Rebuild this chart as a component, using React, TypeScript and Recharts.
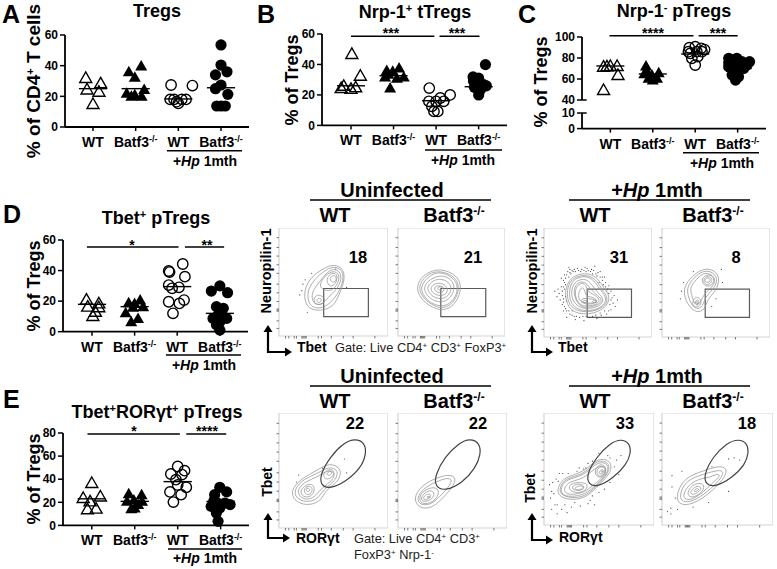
import React from "react"
import { ReferenceArea, ReferenceLine, Scatter, ScatterChart, XAxis, YAxis } from "recharts"

const FONT = "'Liberation Sans', Arial, sans-serif"
const groupNames = ["WT", "Batf3", "WT", "Batf3"]
const groupTicks = [1, 2, 3, 4]

type Pt = number[]

// dot plots, [group position with jitter, % of cells]
const aWt: Pt[] = [[0.83, 32], [1.18, 28.5], [0.86, 24.5], [1.14, 23], [1, 15]]
const aKo: Pt[] = [[2.13, 39.8], [1.84, 36], [1.98, 32.4], [1.79, 22], [2.2, 24.5], [1.9, 20], [2.14, 20], [1.98, 21]]
const aWtHp: Pt[] = [[2.83, 27.4], [3.33, 27], [2.81, 18], [2.96, 16.5], [3.08, 18], [3.18, 18], [3, 15.4], [2.9, 18]]
const aKoHp: Pt[] = [[4, 53.5], [4, 40.4], [3.87, 34], [4.14, 36], [4, 27.4], [3.87, 25], [4.16, 21.3], [3.9, 13.7], [4.1, 13.7], [4, 13.7]]
const aMeans = [25, 25, 18.3, 25.6]

const bWt: Pt[] = [[1.02, 46.9], [1.22, 32.6], [0.83, 26], [1, 24], [1.11, 25], [0.77, 24.5]]
const bKo: Pt[] = [[2.13, 37.7], [1.84, 36], [1.98, 35.5], [2.24, 31.8], [1.8, 31.8], [2.08, 31], [1.92, 24.5], [1.88, 33.5]]
const bWtHp: Pt[] = [[2.84, 24.5], [3.33, 20], [2.83, 15.8], [3.1, 18], [3.18, 15.8], [2.9, 12.5], [2.95, 9.2], [3.04, 9.2], [3, 15.8]]
const bKoHp: Pt[] = [[4.16, 39.9], [3.87, 31.8], [4, 31], [4.12, 26.7], [3.9, 25], [4.04, 23.4], [4, 20], [3.88, 29], [4.18, 26]]
const bMeans = [26, 32.6, 16.2, 25.4]

const cWt: Pt[] = [[0.84, 71.7], [1, 72.4], [1.16, 72.4], [0.92, 72], [1.18, 63.8], [0.84, 49.5]]
const cKo: Pt[] = [[1.84, 72.4], [2.14, 66], [1.8, 65], [1.98, 63.8], [1.87, 67], [2.1, 60.6], [2, 59], [1.9, 60.6]]
const cWtHp: Pt[] = [[2.86, 89.8], [3, 90.8], [3.14, 89.2], [2.88, 84.4], [3.16, 86], [3.06, 81.3], [2.92, 79.7], [3, 73.3], [2.84, 86], [3.04, 86], [3.22, 88]]
const cKoHp: Pt[] = [[3.79, 79.7], [4.28, 76.5], [4.1, 76.5], [3.79, 71.7], [3.95, 70], [4.14, 70], [3.87, 63.8], [3.95, 59], [4.02, 62.2], [4.22, 73.3], [3.87, 76.5], [3.98, 79.7], [3.79, 75.5]]
const cMeans = [72.4, 64.8, 83.8, 70]
const cLowerBase: Pt[] = [[1, 0], [2, 0], [3, 0], [4, 0]]

const dWt: Pt[] = [[0.87, 21], [1.16, 18.5], [0.9, 16.4], [1.16, 16], [1.08, 13], [1.02, 10.3]]
const dKo: Pt[] = [[1.86, 19], [2.13, 20.7], [2, 18.5], [2.2, 16.4], [1.79, 12.4], [1.92, 6.5], [2.08, 8.7], [1.96, 16]]
const dWtHp: Pt[] = [[3.13, 44.3], [2.8, 39.7], [3.18, 36], [2.8, 30.5], [3.04, 29], [2.88, 28.4], [3.16, 20.7], [2.8, 19.6], [3.05, 18.5], [2.9, 12], [2.82, 39]]
const dKoHp: Pt[] = [[4, 30], [3.8, 26.6], [4.18, 25.5], [3.92, 16.4], [4.08, 15.3], [3.84, 8.7], [4, 6.5], [4.16, 8.7], [4, 1], [3.96, 10.9], [3.92, 4.5]]
const dMeans = [17.9, 16.4, 29.5, 12]

const eWt: Pt[] = [[1, 36.7], [0.8, 23.7], [1.2, 25], [0.96, 20.8], [0.9, 14], [1.1, 14.5]]
const eKo: Pt[] = [[1.86, 27.5], [2.16, 26.6], [1.98, 22], [1.82, 21], [2.17, 21], [2, 15], [1.92, 14.5], [2.08, 18]]
const eWtHp: Pt[] = [[3, 51], [3.16, 47.4], [2.84, 44.5], [3.1, 44], [2.96, 39.6], [2.82, 29], [3.2, 33], [3.08, 26.6], [2.9, 20.2], [3, 35]]
const eKoHp: Pt[] = [[3.98, 33], [4.14, 29], [3.86, 26.6], [3.94, 19], [4.22, 18], [3.78, 16.5], [3.98, 15], [4.1, 19.4], [3.9, 10.7], [3.94, 3.5], [3.84, 21]]
const eMeans = [23, 20.8, 37.9, 20.8]

const facsXTicks = [6, 9, 14, 16, 21, 22, 23, 24, 25, 36, 39, 48, 59, 68, 88]
const facsYTicks = [7, 14, 23, 24, 25, 32, 40, 48, 58, 66, 74, 82, 91]

// flow panels, loops in percent of the panel box
const d1Loops: Pt[][] = [
  [[24, 46], [31, 56], [40, 62], [50, 67], [60, 62], [60, 50], [55, 38], [50, 27], [38, 23], [27, 25], [23, 34]],
  [[27, 44], [33, 53], [41, 60], [50, 65], [59, 61], [59, 50], [54, 39], [47, 30], [38, 25], [29, 27], [26, 35]],
  [[31, 42], [37, 50], [43, 58], [50, 63], [57, 59], [57, 50], [52, 42], [45, 36], [40, 29], [32, 29], [30, 36]],
  [[36, 46], [42, 56], [50, 61], [56, 57], [54, 48], [49, 42], [42, 42]],
  [[43, 51], [46, 57], [51, 59], [54, 55], [52, 48], [47, 45]],
  [[46, 52], [48, 56], [52, 56], [53, 52], [50, 49]],
  [[31, 34], [35, 39], [42, 36], [42, 30], [34, 28]],
  [[34, 33], [37, 36], [40, 33], [36, 30]],
]
const d2Loops: Pt[][] = [
  [[17, 44], [21, 54], [30, 60], [40, 62], [52, 58], [59, 50], [58, 38], [52, 28], [42, 23], [30, 27], [21, 35]],
  [[19, 44], [23, 53], [31, 59], [41, 60], [51, 56], [57, 49], [56, 38], [50, 29], [41, 25], [31, 29], [23, 36]],
  [[21, 44], [25, 52], [33, 58], [41, 59], [50, 55], [56, 48], [55, 38], [49, 30], [41, 27], [31, 30], [24, 37]],
  [[24, 45], [28, 51], [35, 55], [43, 56], [50, 52], [53, 46], [51, 38], [46, 33], [40, 31], [32, 33], [26, 39]],
  [[27, 45], [31, 50], [37, 53], [44, 52], [49, 48], [50, 42], [46, 36], [40, 34], [33, 36], [29, 40]],
  [[30, 45], [35, 49], [42, 49], [47, 44], [45, 38], [38, 37], [32, 40]],
  [[33, 45], [38, 47], [44, 45], [42, 40], [36, 40]],
  [[36, 45], [41, 46], [42, 43], [38, 42]],
]
const d3Loops: Pt[][] = [
  [[19, 40], [22, 50], [28, 57], [41, 59], [50, 54], [56, 44], [61, 38], [59, 28], [46, 21], [31, 21], [22, 27]],
  [[21, 40], [23, 50], [30, 56], [41, 57], [49, 52], [54, 43], [59, 37], [58, 29], [46, 23], [32, 23], [23, 29]],
  [[23, 40], [25, 50], [31, 55], [41, 56], [48, 50], [53, 42], [58, 36], [56, 29], [46, 24], [33, 24], [25, 30]],
  [[25, 40], [27, 49], [33, 53], [40, 53], [45, 47], [50, 40], [55, 36], [54, 30], [45, 26], [34, 26], [27, 32]],
  [[27, 39], [29, 48], [34, 51], [39, 50], [42, 45], [48, 39], [54, 35], [52, 30], [42, 27], [33, 27]],
  [[28, 38], [30, 47], [35, 50], [39, 48], [40, 42], [46, 39], [52, 35], [50, 30], [40, 28], [33, 29]],
  [[31, 36], [33, 44], [36, 46], [38, 42], [39, 37], [44, 37], [50, 34], [46, 30], [36, 30]],
  [[33, 33], [37, 36], [41, 35], [45, 35], [50, 33], [46, 31], [38, 31]],
  [[35, 33], [39, 34], [40, 32], [37, 31]],
  [[44, 33], [48, 34], [50, 32], [46, 31]],
]
const d4Loops: Pt[][] = [
  [[20, 46], [28, 56], [38, 63], [48, 62], [54, 54], [50, 42], [42, 35], [40, 25], [32, 22], [25, 28], [21, 36]],
  [[23, 46], [30, 55], [38, 61], [47, 60], [52, 53], [48, 44], [40, 37], [38, 28], [32, 25], [27, 30], [24, 38]],
  [[26, 46], [32, 53], [38, 59], [46, 58], [50, 52], [46, 45], [39, 40], [36, 32], [32, 28], [29, 33], [27, 40]],
  [[36, 52], [40, 57], [46, 57], [49, 52], [46, 47], [40, 46]],
  [[38, 52], [41, 56], [45, 55], [47, 52], [44, 48], [40, 48]],
  [[39, 52], [42, 55], [45, 53], [44, 50], [41, 50]],
  [[28, 32], [31, 37], [35, 36], [37, 31], [33, 27], [29, 28]],
  [[30, 32], [33, 35], [35, 32], [32, 29]],
  [[31, 32], [33, 33], [34, 31], [32, 30]],
]
const e1Loops: Pt[][] = [
  [[11, 34], [22, 44], [35, 50], [46, 57], [58, 52], [55, 40], [42, 33], [39, 23], [25, 19], [13, 24]],
  [[14, 34], [23, 43], [35, 47], [46, 54], [55, 50], [52, 41], [40, 33], [36, 25], [25, 22], [15, 26]],
  [[17, 34], [25, 41], [35, 44], [45, 51], [52, 48], [49, 41], [38, 34], [33, 27], [25, 24], [18, 28]],
  [[40, 47], [46, 52], [52, 49], [48, 43], [42, 42]],
  [[43, 47], [47, 50], [49, 48], [46, 45]],
  [[20, 34], [27, 39], [33, 37], [32, 29], [25, 26], [20, 29]],
  [[22, 34], [27, 37], [31, 35], [30, 30], [25, 28]],
  [[24, 34], [27, 35], [29, 33], [26, 31]],
]
const e2Loops: Pt[][] = [
  [[14, 26], [21, 36], [31, 42], [46, 47], [54, 44], [50, 35], [40, 25], [31, 17], [19, 17]],
  [[17, 26], [23, 34], [32, 39], [45, 44], [50, 42], [47, 36], [38, 27], [30, 20], [20, 20]],
  [[19, 27], [24, 33], [33, 36], [38, 33], [36, 26], [29, 21], [21, 21]],
  [[21, 27], [26, 32], [32, 33], [34, 28], [28, 23], [22, 23]],
  [[23, 27], [27, 30], [31, 29], [28, 25], [24, 24]],
  [[26, 27], [29, 28], [30, 26], [27, 26]],
]
const e3Loops: Pt[][] = [
  [[12, 33], [18, 43], [37, 47], [48, 60], [61, 58], [62, 47], [47, 33], [38, 24], [23, 22], [13, 26]],
  [[14, 33], [19, 42], [37, 45], [47, 58], [59, 57], [60, 47], [47, 34], [37, 25], [24, 24], [15, 27]],
  [[15, 33], [20, 41], [37, 44], [47, 56], [58, 56], [59, 47], [47, 35], [37, 27], [24, 25], [16, 27]],
  [[18, 33], [23, 39], [36, 41], [46, 51], [56, 54], [57, 46], [48, 38], [37, 29], [26, 27], [19, 28]],
  [[21, 33], [26, 38], [36, 38], [40, 36], [38, 30], [28, 28]],
  [[24, 33], [29, 37], [36, 36], [37, 32], [30, 30]],
  [[27, 33], [32, 35], [36, 35], [35, 32], [30, 31]],
  [[45, 46], [49, 54], [55, 54], [57, 47], [51, 41]],
  [[47, 47], [50, 52], [55, 52], [56, 47], [51, 42]],
  [[49, 46], [52, 50], [55, 49], [53, 45]],
  [[51, 47], [53, 49], [54, 47]],
]
const e4Loops: Pt[][] = [
  [[13, 28], [20, 42], [36, 48], [54, 54], [60, 48], [52, 37], [39, 25], [24, 17], [14, 19]],
  [[16, 28], [22, 40], [36, 45], [53, 50], [56, 46], [50, 38], [38, 27], [25, 20], [17, 21]],
  [[19, 28], [25, 37], [36, 42], [42, 42], [50, 46], [53, 44], [46, 38], [37, 29], [26, 22], [20, 23]],
  [[22, 28], [27, 36], [35, 38], [39, 34], [34, 27], [26, 24]],
  [[25, 29], [29, 34], [34, 35], [36, 32], [31, 28], [27, 27]],
  [[28, 30], [31, 33], [34, 32], [31, 30]],
]

const e1Gate: Pt[] = [[79, 74], [70, 78], [59, 74], [47, 62], [38, 47], [38, 37], [47, 34], [61, 40], [75, 52], [80, 64]]
const e2Gate: Pt[] = [[75, 74], [66, 78], [56, 74], [43, 62], [34, 46], [34, 36], [43, 32], [59, 39], [71, 52], [76, 64]]
const e3Gate: Pt[] = [[78, 73], [70, 77], [60, 73], [48, 61], [39, 46], [40, 36], [49, 34], [63, 42], [75, 54], [79, 64]]
const e4Gate: Pt[] = [[77, 73], [69, 77], [58, 73], [46, 61], [38, 46], [39, 36], [48, 34], [63, 42], [75, 54], [78, 64]]

const d1Dots: Pt[] = [[22, 48], [21, 42], [19, 38], [24, 52], [26, 22], [52, 62], [62, 45], [30, 58]]
const d4Dots: Pt[] = [[18, 42], [20, 50], [56, 50], [50, 35], [46, 28], [55, 62], [29, 60], [17, 35]]
const d3Dots: Pt[] = [
  [14, 40], [16, 46], [15, 34], [18, 52], [17, 30], [19, 57], [20, 26], [22, 60], [24, 62], [26, 20], [28, 62], [31, 63], [33, 18],
  [35, 62], [38, 64], [40, 63], [42, 18], [44, 62], [46, 61], [47, 65], [49, 17], [50, 59], [52, 60], [53, 20], [54, 55], [56, 55], [57, 50],
  [58, 21], [60, 47], [62, 42], [63, 36], [64, 31], [62, 25], [65, 38], [66, 28], [13, 44], [12, 37], [10, 42], [18, 24], [16, 54],
  [23, 64], [21, 18], [29, 16], [37, 15], [20, 48], [21, 33], [23, 55], [25, 58], [18, 35], [17, 42], [59, 44], [55, 48], [60, 24],
  [45, 19], [36, 19], [30, 19], [26, 24], [23, 24], [19, 44], [20, 37], [41, 61], [34, 60], [49, 56], [51, 50], [27, 60], [68, 34],
  [18, 46], [19, 50], [20, 54], [21, 57], [24, 59], [26, 61], [29, 60], [32, 61], [37, 61], [39, 60], [43, 60], [45, 58], [48, 58],
  [52, 55], [54, 52], [57, 46], [17, 38], [18, 32], [19, 28], [21, 24], [24, 21], [28, 19], [39, 19], [48, 20], [52, 22], [56, 24],
  [61, 30], [62, 34], [60, 40], [58, 42],
]
const e1Dots: Pt[] = [[16, 40], [40, 52], [60, 60], [62, 48], [18, 46]]
const e3Dots: Pt[] = [
  [8, 38], [9, 28], [11, 41], [10, 18], [7, 30], [12, 18], [14, 46], [16, 14], [17, 46], [21, 11], [25, 16], [30, 48], [33, 17], [32, 51], [38, 51],
  [28, 20], [40, 19], [42, 22], [44, 26], [50, 29], [55, 32], [60, 60], [64, 52], [66, 58], [58, 62], [50, 64], [70, 62], [6, 24], [13, 39], [19, 18],
  [44, 57], [40, 55], [36, 50], [22, 46], [5, 36], [12, 10], [7, 14], [60, 38], [46, 18], [68, 45],
]
const e4Dots: Pt[] = [[9, 44], [8, 15], [8, 10], [9, 34], [12, 24], [18, 48], [5, 12], [14, 14], [60, 30], [60, 59], [65, 60], [70, 58], [45, 52], [28, 16], [42, 20]]

const toXY = (pts: Pt[]) => pts.map(([x, y]) => ({ x, y }))

const OpenTriangle = ({ cx, cy }: any) => (
  <polygon points={`${cx},${cy - 6} ${cx + 6},${cy + 4.5} ${cx - 6},${cy + 4.5}`} fill="none" stroke="#000" strokeWidth={1.4} />
)
const FilledTriangle = ({ cx, cy }: any) => (
  <polygon points={`${cx},${cy - 6} ${cx + 6},${cy + 4.5} ${cx - 6},${cy + 4.5}`} fill="#000" />
)
const OpenCircle = ({ cx, cy }: any) => <circle cx={cx} cy={cy} r={5.2} fill="none" stroke="#000" strokeWidth={1.4} />
const FilledCircle = ({ cx, cy }: any) => <circle cx={cx} cy={cy} r={5.6} fill="#000" />
const Speck = ({ cx, cy }: any) => <circle cx={cx} cy={cy} r={0.6} fill="#444" />
const NoMark = () => <g />

const GroupTick = ({ x, y, payload }: any) => {
  const name = groupNames[payload.value - 1]
  return (
    <text x={x} y={y + 14} textAnchor="middle" fontFamily={FONT} fontWeight={700} fontSize={14} fill="#000">
      {name}
      {name !== "WT" && <tspan dy={-5} fontSize={9}>-/-</tspan>}
    </text>
  )
}

function DotPlot({ left, top, width, height, domain, xDomain, yTicks, series, base, means, bars, hideX, edgeTicks }: any) {
  const pad = { l: 30, r: 6, t: 14, b: 28 }
  return (
    <div style={{ position: "absolute", left: left - pad.l, top: top - pad.t }}>
      <ScatterChart
        width={width + pad.l + pad.r}
        height={height + pad.t + pad.b}
        margin={{ left: 0, right: pad.r, top: pad.t, bottom: hideX ? pad.b : 0 }}
      >
        <XAxis
          type="number"
          dataKey="x"
          domain={xDomain}
          ticks={groupTicks}
          interval={0}
          hide={hideX}
          height={pad.b}
          axisLine={{ stroke: "#000", strokeWidth: 1.8 }}
          tickLine={{ stroke: "#000", strokeWidth: 1.5 }}
          tickSize={4}
          tick={<GroupTick />}
        />
        <YAxis
          type="number"
          dataKey="y"
          domain={domain}
          ticks={yTicks}
          interval={0}
          width={pad.l}
          axisLine={{ stroke: "#000", strokeWidth: 1.8 }}
          tickLine={{ stroke: "#000", strokeWidth: 1.5 }}
          tickSize={5}
          tick={{ fontFamily: FONT, fontWeight: 700, fontSize: 12, fill: "#000" }}
        />
        {base && <Scatter data={toXY(base)} shape={NoMark} isAnimationActive={false} />}
        {series &&
          series.map((s: Pt[], i: number) => (
            <Scatter
              key={i}
              data={toXY(s)}
              isAnimationActive={false}
              shape={[OpenTriangle, FilledTriangle, OpenCircle, FilledCircle][i]}
            />
          ))}
        {means &&
          means.map((m: number, i: number) => (
            <ReferenceLine
              key={i}
              ifOverflow="visible"
              stroke="#000"
              strokeWidth={1.4}
              segment={[{ x: groupTicks[i] - 0.33, y: m }, { x: groupTicks[i] + 0.33, y: m }]}
            />
          ))}
        {bars &&
          bars.map((b: number[], i: number) => (
            <ReferenceLine
              key={i}
              ifOverflow="visible"
              stroke="#000"
              strokeWidth={1.5}
              segment={[{ x: b[0], y: b[2] }, { x: b[1], y: b[2] }]}
            />
          ))}
        {edgeTicks &&
          edgeTicks.map((v: number) => (
            <ReferenceLine
              key={v}
              ifOverflow="visible"
              stroke="#000"
              strokeWidth={1.5}
              segment={[{ x: xDomain[0], y: v }, { x: xDomain[0] + 0.11, y: v }]}
            />
          ))}
      </ScatterChart>
    </div>
  )
}

function FlowPanel({ left, top, width, height, loops, dots, gate, ellipse }: any) {
  return (
    <div style={{ position: "absolute", left: left - 5, top: top }}>
      <ScatterChart width={width + 5} height={height + 5} margin={{ left: 0, right: 0, top: 0, bottom: 0 }}>
        <XAxis
          type="number"
          dataKey="x"
          domain={[0, 100]}
          ticks={facsXTicks}
          interval={0}
          height={5}
          axisLine={false}
          tickLine={{ stroke: "#444", strokeWidth: 0.7 }}
          tickSize={2.5}
          tickFormatter={() => ""}
        />
        <YAxis
          type="number"
          dataKey="y"
          domain={[0, 100]}
          ticks={facsYTicks}
          interval={0}
          width={5}
          axisLine={false}
          tickLine={{ stroke: "#444", strokeWidth: 0.7 }}
          tickSize={2.5}
          tickFormatter={() => ""}
        />
        <ReferenceArea x1={0} x2={100} y1={0} y2={100} fill="none" stroke="#d4d4d4" strokeWidth={1.2} />
        {dots && <Scatter data={toXY(dots)} shape={Speck} isAnimationActive={false} />}
        {loops.map((l: Pt[], i: number) => (
          <Scatter
            key={i}
            data={toXY(l)}
            shape={NoMark}
            line={{ stroke: "#999", strokeWidth: 0.8 }}
            lineJointType="basisClosed"
            isAnimationActive={false}
          />
        ))}
        {gate && (
          <ReferenceArea x1={gate[0]} x2={gate[1]} y1={gate[2]} y2={gate[3]} fill="none" stroke="#5a5a5a" strokeWidth={1.2} />
        )}
        {ellipse && (
          <Scatter
            data={toXY(ellipse)}
            shape={NoMark}
            line={{ stroke: "#444", strokeWidth: 1.2 }}
            lineJointType="basisClosed"
            isAnimationActive={false}
          />
        )}
      </ScatterChart>
    </div>
  )
}

const T = ({ x, y, size = 14, w = 700, a = "start", rot, children }: any) => (
  <text
    x={x}
    y={y}
    fontFamily={FONT}
    fontSize={size}
    fontWeight={w}
    textAnchor={a}
    fill={w === 700 ? "#000" : "#222"}
    transform={rot ? `rotate(-90 ${x} ${y})` : undefined}
  >
    {children}
  </text>
)

const HpLabel = ({ x, y, size = 14 }: any) => (
  <T x={x} y={y} size={size} a="middle">
    +<tspan fontStyle="italic">Hp</tspan> 1mth
  </T>
)

const KoLabel = ({ x, y }: any) => (
  <T x={x} y={y} size={20} a="middle">
    Batf3<tspan dy={-7} fontSize={12}>-/-</tspan>
  </T>
)

const Axes = ({ x, top, bottom, right }: any) => (
  <g fill="#000">
    <path d={`M${x} ${top + 6}V${bottom}H${right - 6}`} fill="none" stroke="#000" strokeWidth={2.2} />
    <polygon points={`${x},${top} ${x + 4.5},${top + 7} ${x - 4.5},${top + 7}`} />
    <polygon points={`${right},${bottom} ${right - 7},${bottom - 4.5} ${right - 7},${bottom + 4.5}`} />
  </g>
)

const Rule = ({ x1, x2, y, w = 1.4 }: any) => <line x1={x1} x2={x2} y1={y} y2={y} stroke="#000" strokeWidth={w} />

export default function App() {
  return (
    <div style={{ position: "absolute", left: 0, top: 0, width: 777, height: 569, background: "#fff", overflow: "hidden" }}>
      <DotPlot
        left={65} top={35} width={184} height={92}
        domain={[0, 60]} yTicks={[0, 20, 40, 60]} xDomain={[0.344, 4.656]}
        series={[aWt, aKo, aWtHp, aKoHp]} means={aMeans}
      />
      <DotPlot
        left={321.7} top={34.3} width={185} height={91.4}
        domain={[0, 60]} yTicks={[0, 20, 40, 60]} xDomain={[0.319, 4.666]}
        series={[bWt, bKo, bWtHp, bKoHp]} means={bMeans}
        bars={[[1, 2.96, 58.5], [3.08, 4.02, 58.5]]}
      />
      <DotPlot
        left={581.7} top={37} width={184} height={63}
        domain={[40, 100]} yTicks={[40, 60, 80, 100]} xDomain={[0.332, 4.668]} hideX
        series={[cWt, cKo, cWtHp, cKoHp]} means={cMeans} edgeTicks={[40]}
        bars={[[0.98, 2.96, 101.3], [3.08, 4, 101.3]]}
      />
      <DotPlot
        left={581.7} top={112.7} width={184} height={15.6}
        domain={[0, 10]} yTicks={[0, 10]} xDomain={[0.332, 4.668]} edgeTicks={[10]} base={cLowerBase}
      />
      <DotPlot
        left={62.7} top={240} width={185} height={91.7}
        domain={[0, 60]} yTicks={[0, 20, 40, 60]} xDomain={[0.32, 4.66]}
        series={[dWt, dKo, dWtHp, dKoHp]} means={dMeans}
        bars={[[0.88, 3.03, 55.4], [3.18, 4.1, 55.4]]}
      />
      <DotPlot
        left={63.3} top={433.3} width={186} height={92.4}
        domain={[0, 80]} yTicks={[0, 20, 40, 60, 80]} xDomain={[0.33, 4.66]}
        series={[eWt, eKo, eWtHp, eKoHp]} means={eMeans}
        bars={[[0.9, 3.05, 79.2], [3.2, 4.13, 79.2]]}
      />

      <FlowPanel left={279} top={228} width={109} height={108} loops={d1Loops} dots={d1Dots} gate={[41, 82, 18, 44]} />
      <FlowPanel left={398} top={228} width={107} height={108} loops={d2Loops} gate={[40, 82, 18, 44]} />
      <FlowPanel left={544} top={228} width={108} height={109} loops={d3Loops} dots={d3Dots} gate={[40, 81, 18, 44]} />
      <FlowPanel left={662} top={228} width={108} height={109} loops={d4Loops} dots={d4Dots} gate={[40, 81, 18, 44]} />
      <FlowPanel left={279} top={413} width={109} height={115} loops={e1Loops} dots={e1Dots} ellipse={e1Gate} />
      <FlowPanel left={398} top={413} width={109} height={115} loops={e2Loops} ellipse={e2Gate} />
      <FlowPanel left={544} top={413} width={110} height={112} loops={e3Loops} dots={e3Dots} ellipse={e3Gate} />
      <FlowPanel left={662} top={413} width={111} height={112} loops={e4Loops} dots={e4Dots} ellipse={e4Gate} />

      <svg width={777} height={569} style={{ position: "absolute", left: 0, top: 0, pointerEvents: "none" }}>
        <T x={2} y={23} size={25}>A</T>
        <T x={257} y={23} size={25}>B</T>
        <T x={518} y={23} size={25}>C</T>
        <T x={3} y={223} size={25}>D</T>
        <T x={3} y={408} size={25}>E</T>

        <T x={157} y={17} size={18} a="middle">Tregs</T>
        <T x={415} y={18} size={18} a="middle">Nrp-1<tspan dy={-6} fontSize={11}>+</tspan><tspan dy={6}> tTregs</tspan></T>
        <T x={674} y={17} size={18} a="middle">Nrp-1<tspan dy={-6} fontSize={11}>-</tspan><tspan dy={6}> pTregs</tspan></T>
        <T x={156} y={224} size={18} a="middle">Tbet<tspan dy={-6} fontSize={11}>+</tspan><tspan dy={6}> pTregs</tspan></T>
        <T x={157} y={418} size={18} a="middle">Tbet<tspan dy={-6} fontSize={11}>+</tspan><tspan dy={6}>RORγt</tspan><tspan dy={-6} fontSize={11}>+</tspan><tspan dy={6}> pTregs</tspan></T>

        <T x={40} y={81} size={19} a="middle" rot>% of CD4<tspan dy={-6} fontSize={11}>+</tspan><tspan dy={6}> T cells</tspan></T>
        <T x={298} y={80} size={18} a="middle" rot>% of Tregs</T>
        <T x={547} y={82} size={18} a="middle" rot>% of Tregs</T>
        <T x={40} y={286} size={18} a="middle" rot>% of Tregs</T>
        <T x={39.5} y={479} size={18} a="middle" rot>% of Tregs</T>

        <T x={391} y={38} size={14} a="middle">***</T>
        <T x={457} y={38} size={14} a="middle">***</T>
        <T x={653} y={38} size={14} a="middle">****</T>
        <T x={718} y={38} size={14} a="middle">***</T>
        <T x={132} y={250} size={14} a="middle">*</T>
        <T x={207} y={250} size={14} a="middle">**</T>
        <T x={134} y={436} size={14} a="middle">*</T>
        <T x={207} y={436} size={14} a="middle">****</T>

        <Rule x1={167} x2={242} y={150.7} />
        <HpLabel x={205} y={166} />
        <Rule x1={425} x2={502} y={150} />
        <HpLabel x={463} y={165} />
        <Rule x1={683} x2={759} y={152.7} />
        <HpLabel x={722} y={168} />
        <Rule x1={166} x2={241} y={355} />
        <HpLabel x={204} y={370} />
        <Rule x1={168} x2={242} y={549} />
        <HpLabel x={205} y={563} />

        <T x={392} y={197} size={20} a="middle">Uninfected</T>
        <Rule x1={310} x2={491} y={200} />
        <HpLabel x={657} y={197} size={20} />
        <Rule x1={569} x2={750} y={200} />
        <T x={335} y={222} size={20} a="middle">WT</T>
        <KoLabel x={454} y={222} />
        <T x={595} y={222} size={20} a="middle">WT</T>
        <KoLabel x={713} y={222} />

        <T x={392} y={383} size={20} a="middle">Uninfected</T>
        <Rule x1={310} x2={491} y={386} />
        <HpLabel x={657} y={383} size={20} />
        <Rule x1={569} x2={750} y={386} />
        <T x={335} y={408} size={20} a="middle">WT</T>
        <KoLabel x={454} y={408} />
        <T x={595} y={408} size={20} a="middle">WT</T>
        <KoLabel x={713} y={408} />

        <T x={358} y={263} size={16.5} a="middle">18</T>
        <T x={473} y={263} size={16.5} a="middle">21</T>
        <T x={619} y={263} size={16.5} a="middle">31</T>
        <T x={736} y={263} size={16.5} a="middle">8</T>
        <T x={355} y={429} size={16.5} a="middle">22</T>
        <T x={478} y={429} size={16.5} a="middle">22</T>
        <T x={625} y={429} size={16.5} a="middle">33</T>
        <T x={747} y={429} size={16.5} a="middle">18</T>

        <T x={271} y={271} size={14.6} a="middle" rot>Neuropilin-1</T>
        <T x={537} y={271} size={14.6} a="middle" rot>Neuropilin-1</T>
        <Axes x={268} top={325} bottom={352} right={292} />
        <T x={297} y={352} size={14}>Tbet</T>
        <T x={335} y={352} size={12.8} w={400}>Gate: Live CD4<tspan dy={-4} fontSize={8}>+</tspan><tspan dy={4}> CD3</tspan><tspan dy={-4} fontSize={8}>+</tspan><tspan dy={4}> FoxP3</tspan><tspan dy={-4} fontSize={8}>+</tspan></T>
        <Axes x={532} top={325} bottom={352} right={553} />
        <T x={558} y={352} size={14}>Tbet</T>

        <T x={272} y={482} size={14} a="middle" rot>Tbet</T>
        <T x={535} y={488} size={14} a="middle" rot>Tbet</T>
        <Axes x={268} top={513} bottom={538} right={290} />
        <T x={296} y={543} size={14}>RORγt</T>
        <T x={354} y={543} size={12.8} w={400}>Gate: Live CD4<tspan dy={-4} fontSize={8}>+</tspan><tspan dy={4}> CD3</tspan><tspan dy={-4} fontSize={8}>+</tspan></T>
        <T x={354} y={559} size={12.8} w={400}>FoxP3<tspan dy={-4} fontSize={8}>+</tspan><tspan dy={4}> Nrp-1</tspan><tspan dy={-4} fontSize={8}>-</tspan></T>
        <Axes x={532} top={513} bottom={540} right={553} />
        <T x={559} y={542} size={14}>RORγt</T>
      </svg>
    </div>
  )
}
